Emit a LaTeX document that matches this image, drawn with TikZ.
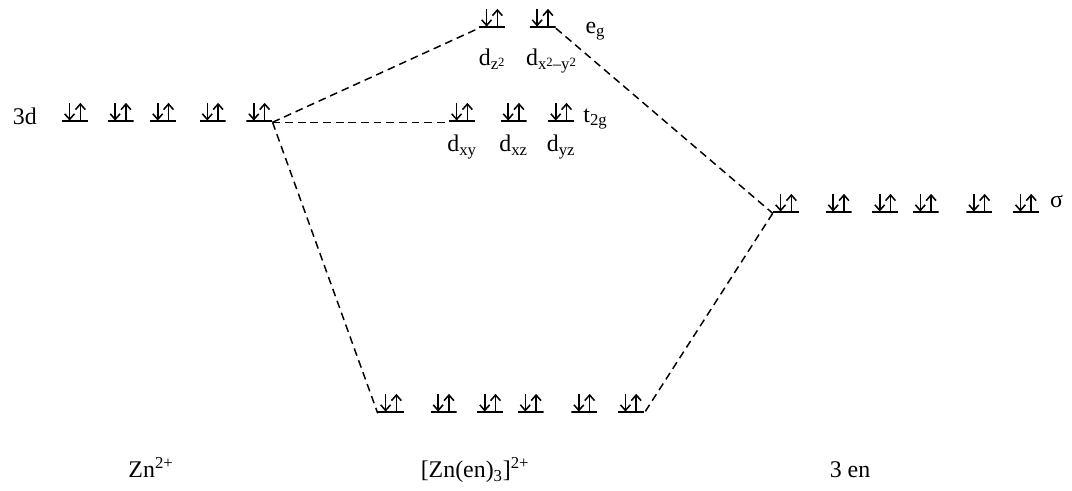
\documentclass[tikz,border=0pt]{standalone}
\usepackage{fontspec}
\setmainfont{Liberation Serif}
\usepackage{tikz}
\usetikzlibrary{arrows.meta,positioning}

\newcommand{\sqr}{\raisebox{0.45ex}{\fontsize{9}{9}\selectfont 2}}

\begin{document}
\begin{tikzpicture}[
    font=\fontsize{17}{20}\selectfont,
    spin/.style={-{Straight Barb[length=4pt,width=7pt]}, line width=1.1pt},
    orb/.style={minimum width=0.65cm, minimum height=0.5cm, inner sep=0pt,
        path picture={
            \draw[line width=1.4pt] ([yshift=0.7pt]path picture bounding box.south west) -- ([yshift=0.7pt]path picture bounding box.south east);
            \draw[spin] ([xshift=0.19cm,yshift=-0.6pt]path picture bounding box.north west) -- ([xshift=0.19cm,yshift=1pt]path picture bounding box.south west);
            \draw[spin] ([xshift=-0.19cm,yshift=1pt]path picture bounding box.south east) -- ([xshift=-0.19cm,yshift=-0.6pt]path picture bounding box.north east);
        }},
    level/.style={dash pattern=on 5.5pt off 3.5pt, line width=1.05pt}
]
    \useasboundingbox (0,0) rectangle (26.8,12.275);

    % Zn 3d
    \node[orb] (zn1) at (1.875,9.475) {};
    \node[orb, right=0.475cm of zn1] (zn2) {};
    \node[orb, right=0.4cm of zn2] (zn3) {};
    \node[orb, right=0.575cm of zn3] (zn4) {};
    \node[orb, right=0.5cm of zn4] (zn5) {};
    \node[left=0.5cm of zn1, yshift=-0.12cm] (lbl3d) {3d};

    % e_g
    \node[orb] (eg1) at (12.3,11.825) {};
    \node[orb, right=0.6cm of eg1] (eg2) {};
    \node[right=0.62cm of eg2.south east, anchor=base west, yshift=-0.12cm] (lbleg) {e\textsubscript{g}};
    \node[below=0.4cm of eg1] (dz) {d\textsubscript{z\sqr}};
    \node[below=0.4cm of eg2, xshift=0.22cm] (dxy2) {d\textsubscript{x\sqr–y\sqr}};

    % t_2g
    \node[orb] (t1) at (11.55,9.475) {};
    \node[orb, right=0.625cm of t1] (t2) {};
    \node[orb, right=0.525cm of t2] (t3) {};
    \node[right=0.1cm of t3.south east, anchor=base west] (lblt) {t\textsubscript{2g}};
    \node[below=0.2cm of t1] (dxy) {d\textsubscript{xy}};
    \node[below=0.2cm of t2] (dxz) {d\textsubscript{xz}};
    \node[below=0.2cm of t3] (dyz) {d\textsubscript{yz}};

    % ligand sigma
    \node[orb] (s1) at (19.65,7.2) {};
    \node[orb, right=0.65cm of s1] (s2) {};
    \node[orb, right=0.5cm of s2] (s3) {};
    \node[orb, right=0.35cm of s3] (s4) {};
    \node[orb, right=0.675cm of s4] (s5) {};
    \node[orb, right=0.5cm of s5] (s6) {};
    \node[right=0.15cm of s6.south east, anchor=base west, yshift=0.15cm] (lbls) {σ};

    % complex bonding
    \node[orb] (b1) at (9.775,2.2) {};
    \node[orb, right=0.65cm of b1] (b2) {};
    \node[orb, right=0.5cm of b2] (b3) {};
    \node[orb, right=0.35cm of b3] (b4) {};
    \node[orb, right=0.675cm of b4] (b5) {};
    \node[orb, right=0.5cm of b5] (b6) {};

    % names
    \node[anchor=base] (zn) at (3.775,0.33) {Zn\textsuperscript{2+}};
    \node[anchor=base] (cplx) at (11.875,0.33) {[Zn(en)\textsubscript{3}]\textsuperscript{2+}};
    \node[anchor=base] (en) at (21.25,0.33) {3 en};

    % correlation lines
    \draw[level] (zn5.south east) -- (eg1.south west);
    \draw[level] (zn5.south east) -- (t1.south west);
    \draw[level] (zn5.south east) -- (b1.south west);
    \draw[level] (eg2.south east) -- (s1.south west);
    \draw[level] (s1.south west) -- (b6.south east);

\end{tikzpicture}
\end{document}
